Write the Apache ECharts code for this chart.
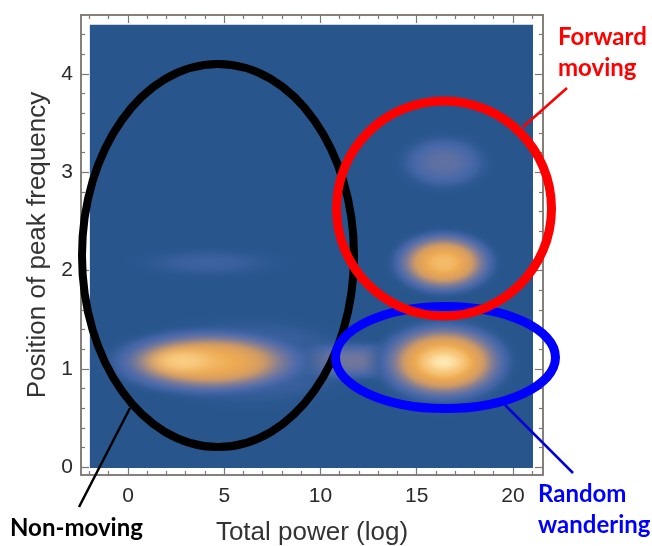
<!DOCTYPE html>
<html>
<head>
<meta charset="utf-8">
<script src="https://cdn.jsdelivr.net/npm/echarts@6/dist/echarts.min.js"></script>
<style>html,body{margin:0;padding:0;background:#fff}#c{width:652px;height:546px}</style>
</head>
<body>
<div id="c"></div>
<script>
// Tick positions
const xMajor = [0, 5, 10, 15, 20];
const xMinor = [-2, -1, 1, 2, 3, 4, 6, 7, 8, 9, 11, 12, 13, 14, 16, 17, 18, 19, 21];
const yMajor = [0, 1, 2, 3, 4];
const yMinor = [0.2, 0.4, 0.6, 0.8, 1.2, 1.4, 1.6, 1.8, 2.2, 2.4, 2.6, 2.8, 3.2, 3.4, 3.6, 3.8, 4.2, 4.4];
// Density field extent (axis units)
const fieldX = [-1.98, 21.04];
const fieldY = [-0.01, 4.5];
// Density features (axis units, relative levels 0-1)
const peakX     = [ 4.2, 16.4,  6.2, 11.6, 16.4,  4.3, 16.4, 16.4,  2.9, 16.4];
const peakY     = [2.08, 1.07, 1.07, 1.08, 3.10, 1.07, 2.08, 1.07, 1.08, 1.07];
const peakRadX  = [ 6.0,  4.6,  8.0,  6.8,  3.3,  6.4,  3.3,  4.2,  3.0,  1.6];
const peakRadY  = [0.24, 0.72, 0.62, 0.27, 0.40, 0.42, 0.40, 0.50, 0.22, 0.16];
const peakLevel = [0.10, 0.17, 0.18, 0.27, 0.22, 0.74, 0.78, 0.88, 0.86, 0.98];
const peakFloor = [0.00, 0.00, 0.00, 0.00, 0.00, 0.00, 0.00, 0.00, 0.70, 0.82];

const peakData = peakX.map((x, i) => [x, peakY[i], peakRadX[i], peakRadY[i], peakLevel[i], peakFloor[i]]);

// Colour ramp of the density plot
const ramp = [
  [0.00, [39, 85, 140]], [0.15, [72, 104, 170]], [0.32, [128, 124, 150]],
  [0.50, [208, 154, 100]], [0.70, [238, 170, 82]], [0.88, [250, 208, 136]], [1.00, [255, 236, 186]]
];
function rampColor(t, alpha) {
  t = Math.min(1, Math.max(0, t));
  for (let i = 1; i < ramp.length; i++) {
    if (t <= ramp[i][0]) {
      const a = ramp[i - 1], b = ramp[i], f = (t - a[0]) / (b[0] - a[0]);
      const c = a[1].map((v, k) => Math.round(v + (b[1][k] - v) * f));
      return 'rgba(' + c.join(',') + ',' + alpha.toFixed(3) + ')';
    }
  }
  return 'rgba(255,236,186,' + alpha.toFixed(3) + ')';
}
function peakGradient(level, floor) {
  const stops = [];
  const n = 20;
  const end = Math.exp(-3.5);
  for (let i = 0; i <= n; i++) {
    const r = i / n;
    const p = (Math.exp(-3.5 * Math.pow(r, 2.6)) - end) / (1 - end);
    const t = floor + (level - floor) * p;
    const alpha = floor > 0 ? p : Math.min(1, t / 0.1);
    stops.push({ offset: r, color: rampColor(t, alpha) });
  }
  return { type: 'radial', x: 0.5, y: 0.5, r: 0.5, colorStops: stops };
}

const frameColor = '#7d7873';
function axisBase(extra) {
  return Object.assign({
    type: 'value', splitLine: { show: false },
    axisLine: { show: true, onZero: false, lineStyle: { color: frameColor, width: 1.5 } },
    axisLabel: { show: false }
  }, extra);
}
function ticks(values, len) {
  return { show: true, inside: true, length: len, customValues: values, lineStyle: { color: frameColor, width: 1.2 } };
}
const xR = { min: -2.44, max: 21.56 };
const yR = { min: -0.08, max: 4.6 };
const labelFont = { fontFamily: 'Liberation Sans', fontSize: 21, color: '#2a2a2a' };
const nameFont = { fontFamily: 'Liberation Sans', fontSize: 26, color: '#333' };

const chart = echarts.init(document.getElementById('c'), null, { renderer: 'canvas' });
chart.setOption({
  animation: false,
  backgroundColor: '#fff',
  grid: { left: 81, right: 109, top: 15, bottom: 71, outerBoundsMode: 'none', containLabel: false },
  xAxis: [
    axisBase(Object.assign({ position: 'bottom', axisTick: ticks(xMajor, 8),
      axisLabel: Object.assign({ show: true, margin: 11, customValues: xMajor }, labelFont),
      name: 'Total power (log)', nameLocation: 'middle', nameGap: 45, nameTextStyle: nameFont }, xR)),
    axisBase(Object.assign({ position: 'bottom', axisTick: ticks(xMinor, 4) }, xR)),
    axisBase(Object.assign({ position: 'top', axisTick: ticks(xMajor, 8) }, xR)),
    axisBase(Object.assign({ position: 'top', axisTick: ticks(xMinor, 4) }, xR))
  ],
  yAxis: [
    axisBase(Object.assign({ position: 'left', axisTick: ticks(yMajor, 8),
      axisLabel: Object.assign({ show: true, margin: 8, customValues: yMajor }, labelFont),
      name: 'Position of peak frequency', nameLocation: 'middle', nameGap: 28, nameTextStyle: nameFont }, yR)),
    axisBase(Object.assign({ position: 'left', axisTick: ticks(yMinor, 4) }, yR)),
    axisBase(Object.assign({ position: 'right', axisTick: ticks(yMajor, 8) }, yR)),
    axisBase(Object.assign({ position: 'right', axisTick: ticks(yMinor, 4) }, yR))
  ],
  series: [
    {
      type: 'custom', coordinateSystem: 'cartesian2d', xAxisIndex: 0, yAxisIndex: 0, z: 2, silent: true, clip: false,
      data: [[fieldX[0], fieldY[0], fieldX[1], fieldY[1]]],
      encode: { x: [0, 2], y: [1, 3] },
      renderItem(params, api) {
        const a = api.coord([api.value(0), api.value(3)]);
        const b = api.coord([api.value(2), api.value(1)]);
        return { type: 'rect', shape: { x: a[0], y: a[1], width: b[0] - a[0], height: b[1] - a[1] }, style: { fill: '#27558c' } };
      }
    },
    {
      type: 'custom', coordinateSystem: 'cartesian2d', xAxisIndex: 0, yAxisIndex: 0, z: 3, silent: true, clip: true,
      data: peakData,
      encode: { x: 0, y: 1 },
      renderItem(params, api) {
        const c = api.coord([api.value(0), api.value(1)]);
        const s = api.size([api.value(2), api.value(3)], [api.value(0), api.value(1)]);
        return {
          type: 'circle', x: c[0], y: c[1], scaleX: s[0] / 100, scaleY: s[1] / 100,
          shape: { cx: 0, cy: 0, r: 100 },
          style: { fill: peakGradient(api.value(4), api.value(5)) }
        };
      }
    }
  ],
  graphic: { elements: [
    { type: 'ellipse', z: 100, shape: { cx: 218, cy: 255.5, rx: 136, ry: 191.5 }, style: { fill: 'none', stroke: '#000', lineWidth: 8 } },
    { type: 'ellipse', z: 101, shape: { cx: 445.5, cy: 357.5, rx: 110, ry: 51 }, style: { fill: 'none', stroke: '#0000ff', lineWidth: 9 } },
    { type: 'ellipse', z: 102, shape: { cx: 444, cy: 208.5, rx: 107.5, ry: 107.5 }, style: { fill: 'none', stroke: '#ff0000', lineWidth: 9 } },
    { type: 'line', z: 100, shape: { x1: 130, y1: 408, x2: 79, y2: 507 }, style: { stroke: '#000', lineWidth: 2.5 } },
    { type: 'line', z: 101, shape: { x1: 523, y1: 127, x2: 567, y2: 88 }, style: { stroke: '#ff0000', lineWidth: 2.5 } },
    { type: 'line', z: 101, shape: { x1: 505, y1: 405, x2: 573, y2: 473 }, style: { stroke: '#0000d8', lineWidth: 2.5 } },
    { type: 'text', z: 103, style: { text: 'Forward', x: 558, y: 37, fill: '#ff0000', font: 'bold 24px Lato', verticalAlign: 'middle' } },
    { type: 'text', z: 103, style: { text: 'moving', x: 558, y: 68, fill: '#ff0000', font: 'bold 24px Lato', verticalAlign: 'middle' } },
    { type: 'text', z: 103, style: { text: 'Random', x: 538, y: 494, fill: '#0000ff', font: 'bold 24px Lato', verticalAlign: 'middle' } },
    { type: 'text', z: 103, style: { text: 'wandering', x: 538, y: 525, fill: '#0000ff', font: 'bold 24px Lato', verticalAlign: 'middle' } },
    { type: 'text', z: 103, style: { text: 'Non-moving', x: 10, y: 528, fill: '#000', font: 'bold 24px Lato', verticalAlign: 'middle' } }
  ] }
});
</script>
</body>
</html>
